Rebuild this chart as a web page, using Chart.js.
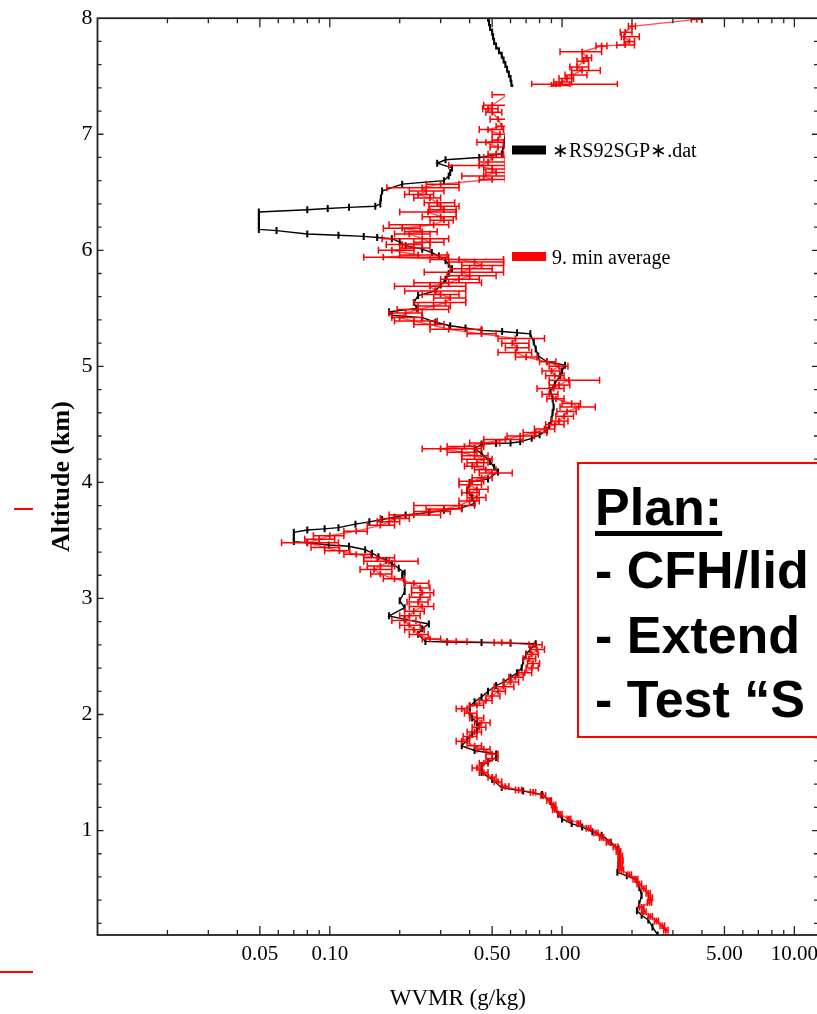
<!DOCTYPE html>
<html>
<head>
<meta charset="utf-8">
<style>
  html, body { margin:0; padding:0; background:#fff; overflow:hidden; width:817px; height:1014px; }
  #wrap { position:relative; width:830px; height:1014px; }
  #c { position:absolute; left:0; top:0; }
  .note { position:absolute; left:577px; top:462px; width:260px; height:272px; border:2px solid #ff0000; background:#fff; box-sizing:content-box; }
  .nl { position:absolute; left:595px; font-family:"Liberation Sans", Arial, sans-serif; font-weight:bold; font-size:52px; line-height:1; color:#000; white-space:nowrap; }
  .u { text-decoration:underline; text-decoration-thickness:5px; text-underline-offset:6px; }
  .mark { position:absolute; background:#ff0000; }
</style>
<script src="https://cdn.jsdelivr.net/npm/chart.js@4.4.0/dist/chart.umd.min.js"></script>
</head>
<body>
<div id="wrap">
  <canvas id="c" width="830" height="1014"></canvas>
  <div class="note"></div>
  <div class="nl u" style="top:481px">Plan:</div>
  <div class="nl" style="top:544px">- CFH/lid</div>
  <div class="nl" style="top:609px">- Extend</div>
  <div class="nl" style="top:673px">- Test “S</div>
  <div class="mark" style="left:14px; top:508px; width:19px; height:2px;"></div>
  <div class="mark" style="left:0px; top:971px; width:33px; height:2px;"></div>
</div>
<script>
// ---- Radiosonde (black) profile: altitude (km) and WVMR (g/kg)
const sondeAlt = [8.00,7.96,7.92,7.88,7.84,7.80,7.76,7.72,7.68,7.64,7.60,7.56,7.52,7.48,7.44,7.40,
6.90,6.83,6.80,6.78,6.75,6.71,6.67,6.64,6.60,6.57,6.51,6.45,6.40,6.38,6.37,6.36,6.35,6.33,6.29,6.25,6.21,6.18,
6.17,6.14,6.13,6.12,6.11,6.10,6.07,6.04,6.01,5.98,5.95,5.91,5.88,5.84,5.80,5.75,5.70,5.65,5.61,5.55,5.50,5.47,
5.44,5.42,5.38,5.35,5.33,5.31,5.30,5.29,5.28,5.21,5.15,5.09,5.04,5.01,4.96,4.92,4.85,4.79,4.72,4.65,4.60,4.54,
4.49,4.45,4.41,4.38,4.35,4.34,4.335,4.33,4.29,4.25,4.18,4.13,4.09,4.03,4.00,3.93,3.87,3.82,3.78,3.76,3.74,3.72,
3.70,3.68,3.66,3.64,3.61,3.60,3.59,3.57,3.53,3.49,3.48,3.46,3.45,3.42,3.39,3.36,3.33,3.30,3.26,3.22,3.20,3.13,
3.06,2.98,2.92,2.85,2.82,2.78,2.74,2.69,2.63,2.625,2.62,2.615,2.61,2.56,2.52,2.46,2.40,2.36,2.32,2.28,2.25,2.20,
2.15,2.11,2.07,2.02,1.97,1.93,1.90,1.86,1.83,1.78,1.73,1.69,1.66,1.63,1.59,1.56,1.50,1.44,1.37,1.34,1.31,1.25,
1.19,1.14,1.10,1.06,1.03,0.99,0.96,0.90,0.84,0.78,0.72,0.64,0.61,0.58,0.51,0.44,0.37,0.31,0.27,0.23,0.17,0.10];
const sondeWVMR = [0.48,0.485,0.49,0.50,0.505,0.51,0.52,0.535,0.55,0.56,0.57,0.58,0.59,0.60,0.605,0.61,
0.56,0.55,0.44,0.315,0.29,0.336,0.33,0.325,0.31,0.205,0.168,0.166,0.165,0.157,0.121,0.098,0.080,0.0495,0.0495,0.0495,0.0495,0.0495,
0.059,0.080,0.109,0.140,0.16,0.185,0.20,0.212,0.250,0.275,0.295,0.315,0.325,0.336,0.325,0.315,0.30,0.285,0.24,0.23,0.237,0.18,
0.185,0.25,0.285,0.33,0.384,0.45,0.552,0.64,0.73,0.755,0.77,0.79,0.86,1.03,1.00,0.98,0.93,0.89,0.91,0.92,0.91,0.90,
0.88,0.86,0.80,0.74,0.66,0.60,0.52,0.45,0.42,0.45,0.49,0.51,0.53,0.48,0.40,0.39,0.41,0.42,0.37,0.31,0.267,0.212,
0.19,0.168,0.148,0.129,0.109,0.095,0.080,0.070,0.070,0.070,0.08,0.099,0.121,0.142,0.152,0.162,0.175,0.185,0.198,0.21,0.205,0.21,
0.21,0.20,0.21,0.18,0.21,0.267,0.25,0.24,0.258,0.32,0.45,0.60,0.77,0.73,0.70,0.68,0.67,0.64,0.60,0.56,0.52,0.48,
0.45,0.42,0.40,0.40,0.41,0.43,0.44,0.43,0.41,0.39,0.37,0.42,0.52,0.52,0.48,0.45,0.45,0.50,0.55,0.68,0.82,0.89,
0.93,0.96,1.00,1.10,1.22,1.35,1.48,1.62,1.75,1.76,1.75,1.73,1.90,2.07,2.15,2.20,2.15,2.10,2.20,2.35,2.45,2.58];

// ---- 9-minute average (red): altitude, WVMR, error-bar low / high
const avgAlt = [7.99,7.93,7.88,7.84,7.80,7.77,7.76,7.71,7.66,7.63,7.58,7.55,7.51,7.48,7.45,7.43,7.42,7.34,
7.25,7.22,7.19,7.13,7.07,7.04,7.00,6.95,6.93,6.89,6.83,6.80,6.76,6.73,6.70,6.67,6.64,6.61,6.57,6.54,6.51,6.48,6.45,6.41,
6.38,6.35,6.33,6.29,6.26,6.22,6.19,6.16,6.14,6.10,6.07,6.05,6.02,6.00,5.96,5.94,5.92,5.90,5.87,5.84,5.81,5.78,5.75,5.72,
5.69,5.65,5.62,5.59,5.55,5.52,5.49,5.46,5.42,5.39,5.36,5.32,5.28,5.24,5.20,5.16,5.12,5.08,5.04,5.00,4.96,4.92,4.88,4.84,4.81,
4.76,4.72,4.68,4.65,4.61,4.57,4.53,4.50,4.46,4.43,4.40,4.37,4.34,4.31,4.29,4.26,4.23,4.20,4.17,4.14,4.11,4.08,4.04,4.01,
3.98,3.94,3.91,3.87,3.84,3.80,3.77,3.75,3.72,3.69,3.66,3.63,3.58,3.54,3.51,3.48,3.44,3.41,3.38,3.35,3.32,3.28,3.25,
3.21,3.17,3.13,3.09,3.05,3.01,2.97,2.93,2.89,2.85,2.81,2.77,2.73,2.69,2.65,2.63,2.62,2.60,2.56,2.52,2.48,2.44,2.40,2.36,
2.32,2.28,2.24,2.20,2.16,2.12,2.08,2.05,2.01,1.97,1.93,1.89,1.85,1.81,1.77,1.73,1.70,1.66,
1.62,1.58,1.54,1.50,1.46,1.42,1.38,1.35,1.33,1.30,1.26,1.22,1.18,1.14,1.10,1.06,1.02,0.98,0.94,0.90,0.86,0.82,0.78,
0.74,0.70,0.66,0.62,0.58,0.54,0.50,0.46,0.42,0.38,0.34,0.30,0.26,0.22,0.18,0.14];
const avgWVMR = [3.80,2.00,1.87,1.85,1.95,1.87,1.48,1.22,1.28,1.24,1.16,1.22,1.10,1.05,1.00,0.94,0.98,0.58,
0.50,0.48,0.50,0.53,0.55,0.48,0.54,0.53,0.47,0.53,0.52,0.50,0.48,0.44,0.50,0.52,0.46,0.50,0.30,0.25,0.26,0.24,0.27,0.29,
0.30,0.31,0.265,0.30,0.31,0.28,0.205,0.25,0.22,0.25,0.27,0.205,0.23,0.185,0.24,0.17,0.36,0.42,0.45,0.40,0.37,0.40,0.36,0.325,
0.27,0.285,0.30,0.33,0.315,0.28,0.24,0.212,0.20,0.23,0.27,0.325,0.45,0.63,0.61,0.64,0.63,0.70,0.86,0.97,0.90,0.93,1.07,0.97,0.92,
0.88,0.94,1.10,1.18,1.05,1.02,0.97,0.93,0.84,0.77,0.66,0.57,0.46,0.38,0.30,0.37,0.42,0.46,0.43,0.41,0.47,0.50,0.45,0.41,
0.40,0.43,0.40,0.43,0.40,0.36,0.31,0.27,0.23,0.19,0.18,0.165,0.13,0.10,0.09,0.08,0.095,0.11,0.13,0.16,0.18,0.165,0.155,
0.165,0.19,0.23,0.245,0.25,0.245,0.24,0.25,0.23,0.22,0.21,0.22,0.23,0.24,0.27,0.35,0.55,0.76,0.78,0.74,0.72,0.75,0.74,0.69,
0.63,0.60,0.56,0.53,0.50,0.47,0.43,0.37,0.40,0.43,0.45,0.44,0.42,0.40,0.37,0.42,0.46,0.50,
0.50,0.46,0.43,0.46,0.50,0.53,0.57,0.65,0.75,0.83,0.88,0.92,0.93,0.98,1.07,1.18,1.30,1.40,1.48,1.58,1.70,1.75,1.78,
1.79,1.78,1.80,1.95,2.07,2.15,2.25,2.35,2.40,2.38,2.20,2.25,2.40,2.55,2.70,2.80];
const avgLow = [3.60,1.93,1.78,1.80,1.85,1.72,1.40,0.98,1.22,1.16,1.08,1.10,1.03,0.97,0.92,0.74,0.90,0.50,
0.46,0.455,0.47,0.49,0.52,0.44,0.50,0.50,0.43,0.49,0.48,0.46,0.44,0.325,0.46,0.47,0.37,0.44,0.26,0.176,0.22,0.21,0.23,0.255,
0.267,0.27,0.20,0.25,0.27,0.18,0.17,0.21,0.19,0.168,0.23,0.175,0.20,0.162,0.20,0.14,0.27,0.325,0.37,0.33,0.255,0.32,0.30,0.23,
0.19,0.21,0.25,0.28,0.23,0.24,0.195,0.18,0.185,0.19,0.23,0.27,0.39,0.53,0.55,0.57,0.53,0.63,0.80,0.88,0.82,0.85,0.88,0.88,0.78,
0.82,0.86,1.00,0.98,0.95,0.94,0.90,0.85,0.76,0.68,0.58,0.46,0.40,0.32,0.25,0.32,0.37,0.37,0.39,0.38,0.42,0.44,0.41,0.36,
0.36,0.39,0.37,0.39,0.36,0.23,0.26,0.23,0.18,0.165,0.16,0.145,0.115,0.085,0.078,0.062,0.083,0.095,0.115,0.14,0.14,0.145,0.135,
0.15,0.17,0.21,0.225,0.225,0.22,0.215,0.22,0.21,0.20,0.185,0.20,0.21,0.22,0.25,0.32,0.51,0.72,0.73,0.70,0.68,0.71,0.70,0.65,
0.59,0.56,0.51,0.50,0.47,0.44,0.40,0.35,0.38,0.40,0.42,0.41,0.39,0.375,0.35,0.39,0.43,0.47,
0.47,0.44,0.41,0.44,0.48,0.51,0.55,0.63,0.73,0.81,0.86,0.90,0.91,0.96,1.05,1.16,1.27,1.37,1.45,1.55,1.66,1.71,1.74,
1.75,1.74,1.76,1.91,2.02,2.10,2.20,2.30,2.35,2.33,2.15,2.20,2.35,2.50,2.64,2.74];
const avgHigh = [4.00,2.07,2.00,2.15,2.05,2.05,1.56,1.48,1.34,1.30,1.30,1.46,1.28,1.12,1.10,1.73,1.08,0.66,
0.58,0.53,0.55,0.60,0.60,0.56,0.60,0.58,0.56,0.58,0.56,0.57,0.57,0.57,0.57,0.58,0.57,0.57,0.36,0.36,0.31,0.28,0.30,0.345,
0.36,0.35,0.35,0.35,0.34,0.325,0.245,0.29,0.27,0.325,0.31,0.25,0.27,0.23,0.32,0.325,0.56,0.56,0.56,0.50,0.56,0.52,0.44,0.45,
0.385,0.385,0.36,0.385,0.385,0.33,0.325,0.25,0.25,0.29,0.31,0.45,0.52,0.84,0.72,0.72,0.74,0.78,0.94,1.06,0.98,1.02,1.45,1.08,1.02,
0.96,1.02,1.20,1.39,1.15,1.12,1.06,1.02,0.93,0.86,0.76,0.68,0.54,0.46,0.45,0.43,0.48,0.50,0.48,0.46,0.52,0.61,0.50,0.46,
0.45,0.48,0.44,0.47,0.44,0.42,0.37,0.33,0.30,0.22,0.20,0.19,0.145,0.115,0.105,0.109,0.11,0.122,0.15,0.19,0.24,0.19,0.185,
0.185,0.21,0.267,0.27,0.28,0.27,0.265,0.28,0.255,0.245,0.235,0.245,0.255,0.265,0.30,0.39,0.60,0.82,0.84,0.79,0.77,0.80,0.79,0.74,
0.68,0.65,0.62,0.57,0.54,0.50,0.46,0.39,0.43,0.46,0.49,0.47,0.45,0.43,0.40,0.45,0.49,0.53,
0.53,0.48,0.455,0.48,0.52,0.55,0.59,0.67,0.77,0.85,0.90,0.94,0.95,1.00,1.09,1.20,1.33,1.43,1.51,1.61,1.74,1.79,1.82,
1.83,1.82,1.84,1.99,2.12,2.20,2.30,2.40,2.45,2.43,2.25,2.30,2.45,2.60,2.76,2.86];

// ---- Axes / labels
const xTickValues = [0.05, 0.1, 0.5, 1, 5, 10];
const yTickValues = [1, 2, 3, 4, 5, 6, 7, 8];
const xTitle = 'WVMR (g/kg)';
const yTitle = 'Altitude (km)';
const legendLabels = ['\u2217RS92SGP\u2217.dat', '9. min average'];
const legendColors = ['#000000', '#ff0000'];

const SERIF = "'Liberation Serif', 'Times New Roman', serif";

const decoPlugin = {
  id: 'deco',
  afterDatasetDraw(chart, args) {
    if (args.index !== 0) return;
    const ctx = chart.ctx, xs = chart.scales.x, ys = chart.scales.y, a = chart.chartArea;
    ctx.save();
    ctx.beginPath();
    ctx.rect(a.left, a.top, a.right - a.left, a.bottom - a.top);
    ctx.clip();
    ctx.strokeStyle = '#ff0000';
    ctx.lineWidth = 1.5;
    for (let i = 0; i < avgAlt.length; i++) {
      const y = ys.getPixelForValue(avgAlt[i]);
      const x1 = xs.getPixelForValue(avgLow[i]);
      const x2 = xs.getPixelForValue(avgHigh[i]);
      ctx.beginPath();
      ctx.moveTo(x1, y); ctx.lineTo(x2, y);
      ctx.moveTo(x1, y - 3.5); ctx.lineTo(x1, y + 3.5);
      ctx.moveTo(x2, y - 3.5); ctx.lineTo(x2, y + 3.5);
      ctx.stroke();
    }
    ctx.restore();
  },
  afterDatasetsDraw(chart) {
    const ctx = chart.ctx, a = chart.chartArea;
    // white legend panel covering the upper right of the plot
    ctx.save();
    ctx.fillStyle = '#ffffff';
    ctx.fillRect(505, 87, a.right - 505, 213);
    const rows = [150, 256.5];
    ctx.font = '20px ' + SERIF;
    ctx.textBaseline = 'alphabetic';
    ctx.textAlign = 'left';
    for (let i = 0; i < legendLabels.length; i++) {
      ctx.fillStyle = legendColors[i];
      ctx.fillRect(512, rows[i] - 4.5, 34, 9);
      ctx.fillStyle = '#000';
      ctx.fillText(legendLabels[i], 552, rows[i] + 7);
    }
    ctx.restore();
  },
  afterDraw(chart) {
    const ctx = chart.ctx, a = chart.chartArea, xs = chart.scales.x, ys = chart.scales.y;
    ctx.save();
    ctx.strokeStyle = '#222';
    ctx.lineWidth = 1.3;
    ctx.beginPath();
    for (let e = -2; e <= 1; e++) {
      for (let m = 1; m <= 9; m++) {
        const v = m * Math.pow(10, e);
        if (v <= xs.min * 1.0001 || v > xs.max) continue;
        const px = xs.getPixelForValue(v);
        const major = xTickValues.some(t => Math.abs(t - v) / t < 1e-6);
        const len = major ? 9 : 5;
        ctx.moveTo(px, a.bottom); ctx.lineTo(px, a.bottom - len);
        ctx.moveTo(px, a.top); ctx.lineTo(px, a.top + len);
      }
    }
    for (let k = 1; k < 40; k++) {
      const v = k * 0.2;
      if (v < ys.min) continue;
      const py = ys.getPixelForValue(v);
      const len = (k % 5 === 0) ? 6 : 4;
      ctx.moveTo(a.left, py); ctx.lineTo(a.left + len, py);
      ctx.moveTo(a.right, py); ctx.lineTo(a.right - len, py);
    }
    ctx.stroke();
    ctx.lineWidth = 1.8;
    ctx.strokeRect(a.left, a.top, a.right - a.left, a.bottom - a.top);
    ctx.restore();
  }
};

new Chart(document.getElementById('c'), {
  type: 'scatter',
  data: {
    datasets: [
      {
        label: legendLabels[1],
        data: avgAlt.map((h, i) => ({ x: avgWVMR[i], y: h })),
        showLine: true,
        borderColor: 'rgba(255,0,0,0.7)',
        borderWidth: 1.4,
        pointStyle: 'line',
        rotation: 90,
        pointRadius: 3.2,
        pointBorderColor: '#ff0000',
        pointBorderWidth: 1.8,
        pointBackgroundColor: '#ff0000',
        tension: 0,
        order: 0
      },
      {
        label: legendLabels[0],
        data: sondeAlt.map((h, i) => ({ x: sondeWVMR[i], y: h })),
        showLine: true,
        borderColor: '#000000',
        borderWidth: 1.4,
        pointStyle: 'line',
        rotation: 90,
        pointRadius: 3.5,
        pointBorderColor: '#000000',
        pointBorderWidth: 2,
        pointBackgroundColor: '#000000',
        tension: 0,
        order: 1
      }
    ]
  },
  options: {
    responsive: false,
    animation: false,
    layout: { padding: { left: 0, right: 12, top: 15, bottom: 0 } },
    plugins: { legend: { display: false }, tooltip: { enabled: false } },
    scales: {
      x: {
        type: 'logarithmic',
        min: 0.01,
        max: 12.64,
        grid: { display: false, drawTicks: false },
        border: { display: false },
        afterBuildTicks(scale) { scale.ticks = xTickValues.map(v => ({ value: v })); },
        afterFit(scale) { scale.height = 79; },
        ticks: {
          autoSkip: false, maxRotation: 0, minRotation: 0, padding: 7,
          color: '#000', font: { family: SERIF, size: 21 },
          callback: v => Number(v).toFixed(2)
        },
        title: { display: true, text: xTitle, color: '#000', font: { family: SERIF, size: 23 }, padding: { top: 0, bottom: 1 } }
      },
      y: {
        type: 'linear',
        min: 0.1,
        max: 8,
        grid: { display: false, drawTicks: false },
        border: { display: false },
        afterBuildTicks(scale) { scale.ticks = yTickValues.map(v => ({ value: v })); },
        afterFit(scale) { scale.width = 97.5; },
        ticks: {
          autoSkip: false, padding: 5,
          color: '#000', font: { family: SERIF, size: 22 },
          callback: v => String(v)
        },
        title: { display: true, text: yTitle, color: '#000', font: { family: SERIF, size: 26, weight: 'bold' }, padding: { top: 47, bottom: 0 } }
      }
    }
  },
  plugins: [decoPlugin]
});
</script>
</body>
</html>
